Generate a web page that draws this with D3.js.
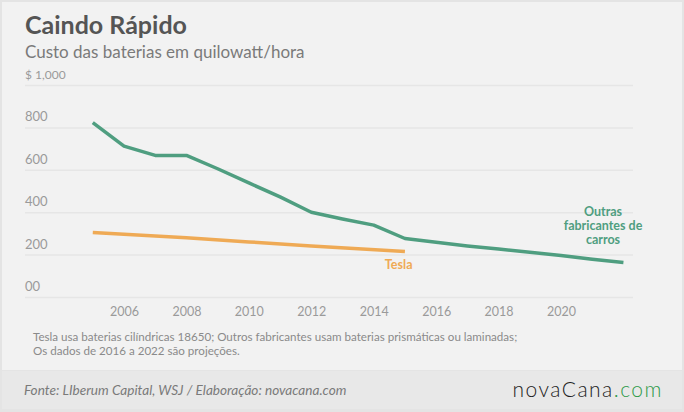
<!DOCTYPE html>
<html>
<head>
<meta charset="utf-8">
<script src="https://cdn.jsdelivr.net/npm/d3@7"></script>
<style>
  body { margin: 0; background: #fff; }
  svg { display: block; font-family: "Lato", "Open Sans", sans-serif; }
</style>
</head>
<body>
<svg id="chart" width="684" height="412"></svg>
<script>
// battery cost, US$ per kWh
const outrasYears = [2005, 2006, 2007, 2008, 2009, 2010, 2011, 2012, 2013, 2014, 2015, 2016, 2017, 2018, 2019, 2020, 2021, 2022];
const outrasValues = [823, 712, 668, 668, 605, 538, 472, 400, 368, 339, 276, 258, 241, 226, 211, 196, 178, 163];
const teslaYears = [2005, 2008, 2010, 2012, 2015];
const teslaValues = [304, 279, 260, 241, 215];
const yTicks = [0, 200, 400, 600, 800, 1000];
const yTickLabels = ["00", "200", "400", "600", "800", "$ 1,000"];
const xTicks = [2006, 2008, 2010, 2012, 2014, 2016, 2018, 2020];

const svg = d3.select("svg#chart");
const W = +svg.attr("width");
const H = +svg.attr("height");
const green = "#4f9e80";
const orange = "#efaa55";

// panel + frame
svg.append("rect").attr("width", W).attr("height", H).attr("fill", "#e4e4e4");
svg.append("rect").attr("x", 2).attr("y", 2).attr("width", W - 4).attr("height", 368).attr("fill", "#f2f2f2");
svg.append("rect").attr("x", 2).attr("y", 371).attr("width", W - 4).attr("height", 38).attr("fill", "#e8e8e8");

// titles
svg.append("text").attr("x", 25).attr("y", 34).text("Caindo Rápido")
    .style("font-size", "25px").style("font-weight", "bold").attr("fill", "#555");
svg.append("text").attr("x", 25).attr("y", 58).text("Custo das baterias em quilowatt/hora")
    .style("font-size", "17px").attr("fill", "#7a7a7a");

// scales
const x = d3.scaleLinear().domain([2006, 2020]).range([124, 561]);
const y = d3.scaleLinear().domain([0, 1000]).range([297, 85]);

// gridlines
const yGrid = d3.axisLeft(y).tickValues(yTicks).tickSize(-608).tickFormat("");
svg.append("g").attr("transform", "translate(25,0)").call(yGrid)
    .call(g => g.select(".domain").remove())
    .call(g => g.selectAll("line").attr("stroke", "#e6e6e6").attr("stroke-width", 1.5));

// y labels sit above their gridlines
svg.append("g").selectAll("text").data(yTicks).join("text")
    .attr("x", 25).attr("y", (d) => y(d) - 6)
    .text((d, i) => yTickLabels[i])
    .style("font-size", (d) => d === 1000 ? "12px" : "13px")
    .attr("fill", "#9a9a9a");

// x axis labels
const xAxis = d3.axisBottom(x).tickValues(xTicks).tickSize(0).tickFormat(d3.format("d"));
svg.append("g").attr("transform", "translate(0,304)").call(xAxis)
    .call(g => g.select(".domain").remove())
    .call(g => g.selectAll("text").attr("fill", "#9a9a9a").style("font-size", "12.5px")
        .style("font-family", "Lato, sans-serif"));

// lines
const line = d3.line().x((d) => x(d[0])).y((d) => y(d[1]));
svg.append("path").datum(teslaYears.map((d, i) => [d, teslaValues[i]]))
    .attr("d", line).attr("fill", "none").attr("stroke", orange).attr("stroke-width", 3.5);
svg.append("path").datum(outrasYears.map((d, i) => [d, outrasValues[i]]))
    .attr("d", line).attr("fill", "none").attr("stroke", green).attr("stroke-width", 3.5)
    .attr("stroke-linejoin", "round");

// series labels
svg.append("text").attr("x", x(2014.8)).attr("y", 269).attr("text-anchor", "middle")
    .text("Tesla").style("font-size", "12.5px").style("font-weight", "bold").attr("fill", orange);
const outrasLbl = svg.append("text").attr("text-anchor", "middle")
    .style("font-size", "12.5px").style("font-weight", "bold").attr("fill", green);
["Outras", "fabricantes de", "carros"].forEach((t, i) => {
    outrasLbl.append("tspan").attr("x", 603).attr("y", 216 + i * 14).text(t);
});

// note
svg.append("text").attr("x", 33).attr("y", 341)
    .text("Tesla usa baterias cilíndricas 18650; Outros fabricantes usam baterias prismáticas ou laminadas;")
    .style("font-size", "11.6px").attr("fill", "#8a8a8a");
svg.append("text").attr("x", 33).attr("y", 355)
    .text("Os dados de 2016 a 2022 são projeções.")
    .style("font-size", "11.6px").attr("fill", "#8a8a8a");

// footer
svg.append("text").attr("x", 24).attr("y", 395)
    .text("Fonte: LIberum Capital, WSJ / Elaboração: novacana.com")
    .style("font-size", "13.6px").style("font-style", "italic").attr("fill", "#7a7a7a");
const logo = svg.append("text").attr("x", 663).attr("y", 397).attr("text-anchor", "end")
    .style("font-size", "21px").style("font-weight", "300").style("letter-spacing", "1.5px");
logo.append("tspan").text("novaCana").attr("fill", "#222");
logo.append("tspan").text(".com").attr("fill", "#2e9a4a");
</script>
</body>
</html>
